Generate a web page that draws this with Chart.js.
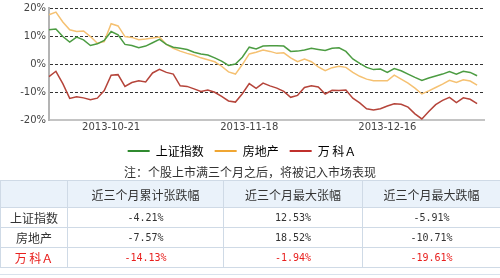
<!DOCTYPE html>
<html>
<head>
<meta charset="utf-8">
<script src="https://cdn.jsdelivr.net/npm/chart.js@4.4.1/dist/chart.umd.min.js"></script>
<style>
  body { margin: 0; background: #fff; width: 500px; height: 278px; overflow: hidden; font-family: "Noto Sans CJK SC", sans-serif; color: #333; }
  .chart-box { position: absolute; left: 0; top: 0; width: 500px; height: 167px; }
  .note { position: absolute; left: 0; top: 163px; width: 500px; text-align: center; font-size: 12px; line-height: 17px; color: #333; }
  table { position: absolute; left: 0; top: 180px; width: 500px; border-collapse: collapse; table-layout: fixed; font-size: 12px; }
  th, td { border: 1px solid #cfdae6; text-align: center; padding: 0; color: #333; }
  th { height: 26px; background: #eaf2fa; font-weight: normal; }
  td { height: 19px; }
  .num { font-family: "DejaVu Sans Mono", monospace; font-size: 10px; }
  .red, .red td { color: #e8201e; }
  .foot { position: absolute; left: 0; top: 267px; width: 500px; height: 7px; border-bottom: 1px solid #d8e2ec; }
</style>
</head>
<body>
<div class="chart-box"><canvas id="trendChart"></canvas></div>
<div class="note">注：个股上市满三个月之后，将被记入市场表现</div>
<table>
  <colgroup><col style="width:67px"><col style="width:156px"><col style="width:139px"><col style="width:138px"></colgroup>
  <tr><th></th><th>近三个月累计张跌幅</th><th>近三个月最大张幅</th><th>近三个月最大跌幅</th></tr>
  <tr><td>上证指数</td><td class="num">-4.21%</td><td class="num">12.53%</td><td class="num">-5.91%</td></tr>
  <tr><td>房地产</td><td class="num">-7.57%</td><td class="num">18.52%</td><td class="num">-10.71%</td></tr>
  <tr class="red"><td>万 科Ａ</td><td class="num">-14.13%</td><td class="num">-1.94%</td><td class="num">-19.61%</td></tr>
</table>
<div class="foot"></div>
<script>
// trading days shown on the x axis (last one has no data yet)
const dates = [
  "2013-10-08", "2013-10-09", "2013-10-10", "2013-10-11",
  "2013-10-14", "2013-10-15", "2013-10-16", "2013-10-17", "2013-10-18",
  "2013-10-21", "2013-10-22", "2013-10-23", "2013-10-24", "2013-10-25",
  "2013-10-28", "2013-10-29", "2013-10-30", "2013-10-31", "2013-11-01",
  "2013-11-04", "2013-11-05", "2013-11-06", "2013-11-07", "2013-11-08",
  "2013-11-11", "2013-11-12", "2013-11-13", "2013-11-14", "2013-11-15",
  "2013-11-18", "2013-11-19", "2013-11-20", "2013-11-21", "2013-11-22",
  "2013-11-25", "2013-11-26", "2013-11-27", "2013-11-28", "2013-11-29",
  "2013-12-02", "2013-12-03", "2013-12-04", "2013-12-05", "2013-12-06",
  "2013-12-09", "2013-12-10", "2013-12-11", "2013-12-12", "2013-12-13",
  "2013-12-16", "2013-12-17", "2013-12-18", "2013-12-19", "2013-12-20",
  "2013-12-23", "2013-12-24", "2013-12-25", "2013-12-26", "2013-12-27",
  "2013-12-30", "2013-12-31", "2014-01-02", "2014-01-03", "2014-01-06"
];
const tickDates = ["2013-10-21", "2013-11-18", "2013-12-16"];

const shIndex = [
  12.2, 12.5, 9.8, 7.8, 9.6, 8.6, 6.6, 7.2, 8.4, 11.6,
  10.4, 7.0, 6.6, 5.8, 6.4, 7.6, 8.8, 7.0, 6.0, 5.6,
  5.2, 4.2, 3.6, 3.2, 2.2, 1.0, -0.5, 0.0, 2.4, 6.0,
  5.4, 6.4, 6.5, 6.5, 6.4, 4.5, 4.6, 5.0, 5.6, 5.2,
  4.8, 5.6, 5.8, 4.5, 1.8, 0.2, -1.2, -2.0, -1.8, -3.0,
  -1.6, -2.4, -3.6, -4.8, -5.91, -5.0, -4.3, -3.6, -2.7, -3.6,
  -2.6, -3.0, -4.21
];
const property = [
  17.6, 18.52, 15.0, 12.2, 11.6, 11.8, 9.8, 7.4, 8.0, 14.4,
  13.6, 9.8, 9.5, 8.7, 8.9, 9.3, 9.6, 7.0, 5.6, 4.6,
  3.8, 3.1, 2.2, 1.5, 0.8, -0.8, -2.8, -3.6, -0.2, 3.6,
  4.2, 5.0, 4.5, 3.8, 4.0, 2.2, 0.8, 1.8, 0.8, -1.0,
  -2.4, -1.3, -0.8, -1.2, -3.0, -4.4, -5.4, -6.0, -6.0, -6.0,
  -4.0, -5.4, -6.8, -8.6, -10.71, -9.6, -8.4, -7.2, -5.8, -6.6,
  -5.6, -6.1, -7.57
];
const vanke = [
  -4.5, -2.6, -7.0, -12.3, -11.7, -12.1, -12.8, -12.2, -9.5, -4.0,
  -3.8, -8.0, -6.6, -6.0, -6.4, -3.2, -1.94, -3.0, -3.6, -7.8,
  -8.0, -8.9, -9.8, -9.3, -10.1, -11.6, -13.2, -13.6, -10.6, -7.0,
  -8.7, -6.8, -7.8, -8.6, -9.8, -11.9, -11.2, -8.4, -7.8, -8.2,
  -10.7, -9.4, -9.5, -9.3, -12.2, -13.9, -16.0, -16.4, -16.0, -15.0,
  -14.2, -14.4, -15.4, -17.8, -19.61, -17.0, -14.5, -13.0, -11.9, -13.8,
  -12.1, -12.6, -14.13
];

const seriesNames = ["上证指数", "房地产", "万 科Ａ"];
const lineColors = ["#4c9c42", "#f5c172", "#b5443a"];
const legendColors = ["#2f8a2f", "#f0a632", "#c0302c"];

const tickFont = { family: "'DejaVu Sans', sans-serif", size: 10, lineHeight: 1 };

new Chart(document.getElementById("trendChart"), {
  type: "line",
  data: {
    labels: dates,
    datasets: [shIndex, property, vanke].map((values, i) => ({
      label: seriesNames[i],
      data: values,
      borderColor: lineColors[i],
      backgroundColor: legendColors[i],
      borderWidth: 1.5,
      pointRadius: 0,
      tension: 0,
    })),
  },
  options: {
    responsive: true,
    maintainAspectRatio: false,
    animation: false,
    layout: { padding: { left: 0, right: 16, top: 2, bottom: 0 } },
    plugins: {
      tooltip: { enabled: false },
      legend: {
        position: "bottom",
        labels: {
          boxWidth: 22,
          boxHeight: 2,
          padding: 11,
          color: "#333",
          font: { family: "'Noto Sans CJK SC', sans-serif", size: 12 },
          generateLabels: (chart) =>
            chart.data.datasets.map((ds, i) => ({
              text: ds.label,
              fillStyle: legendColors[i],
              strokeStyle: legendColors[i],
              lineWidth: 0,
              hidden: false,
              datasetIndex: i,
            })),
        },
      },
    },
    scales: {
      x: {
        grid: { display: false, drawTicks: false },
        border: { display: true, color: "#c4c4c4", width: 2 },
        ticks: {
          autoSkip: false,
          maxRotation: 0,
          padding: 2,
          color: "#444",
          font: tickFont,
          callback: function (val, i) {
            return tickDates.includes(dates[i]) ? dates[i] : "";
          },
        },
      },
      y: {
        min: -20,
        max: 20,
        afterFit: (scale) => { scale.width = 49; },
        grid: {
          drawTicks: false,
          color: (ctx) => (ctx.tick && ctx.tick.value === -20 ? "rgba(0,0,0,0)" : "#333"),
          lineWidth: 1,
        },
        border: { display: true, color: "#b4b4b4", width: 2, dash: [3, 2] },
        ticks: {
          stepSize: 10,
          padding: 3,
          color: "#444",
          font: tickFont,
          callback: (v) => v + "%",
        },
      },
    },
  },
});
</script>
</body>
</html>
